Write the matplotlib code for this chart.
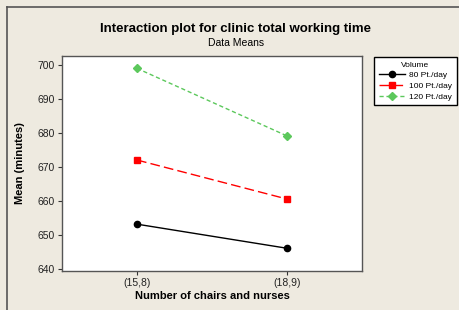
import matplotlib
matplotlib.use("Agg")
import matplotlib.pyplot as plt
from matplotlib.lines import Line2D

plt.rcParams['font.family'] = ['Liberation Sans', 'DejaVu Sans']

# data
groups = ["(15,8)", "(18,9)"]
vol_80 = [653.1, 646.0]
vol_100 = [672.0, 660.5]
vol_120 = [699.0, 679.1]
series_labels = ["80 Pt./day", "100 Pt./day", "120 Pt./day"]
yticks = [640, 650, 660, 670, 680, 690, 700]

bg = "#eeeae0"
fig = plt.figure(figsize=(4.6, 3.1), dpi=100, facecolor=bg)
ax = fig.add_axes([62/460, 1 - 271/310, 300/460, 215/310])
ax.set_facecolor("white")

x = [1, 2]
ax.plot(x, vol_80, color="black", lw=1, marker="o", ms=4.5, label=series_labels[0])
ax.plot(x, vol_100, color="#ff0000", lw=1, ls=(0, (7, 3)), marker="s", ms=4.5,
        label=series_labels[1])
ax.plot(x, vol_120, color="#5cc85c", lw=1, ls=(0, (3, 2)), marker="D", ms=4,
        label=series_labels[2])

ax.set_xlim(0.5, 2.5)
ax.set_ylim(639.3, 702.65)
ax.set_xticks(x)
ax.set_xticklabels(groups)
ax.set_yticks(yticks)
ax.tick_params(labelsize=7.5, length=3, width=0.8, color="#333333",
               labelcolor="#222222", pad=2)
for s in ax.spines.values():
    s.set_color("#555555")
    s.set_linewidth(1)

ax.set_xlabel("Number of chairs and nurses", fontsize=8, fontweight="bold", labelpad=2)
ax.set_ylabel("Mean (minutes)", fontsize=8, fontweight="bold", labelpad=9)

fig.text(236/460, 1 - 29/310, "Interaction plot for clinic total working time",
         ha="center", va="center", fontsize=9.5, fontweight="bold")
fig.text(236/460, 1 - 43/310, "Data Means", ha="center", va="center", fontsize=7.5)

leg = fig.legend(loc="upper left", bbox_to_anchor=(374/460, 1 - 57/310),
                 title="Volume", fontsize=6, title_fontsize=6,
                 frameon=True, fancybox=False, edgecolor="black", framealpha=1,
                 handlelength=3.2, borderpad=0.55, labelspacing=0.35,
                 handletextpad=0.5, borderaxespad=0)
leg.get_frame().set_linewidth(1)
leg.get_frame().set_facecolor("white")

# outer frame on top and left
fig.add_artist(Line2D([7/460, 1], [1 - 7/310, 1 - 7/310], color="#555555", lw=1.2))
fig.add_artist(Line2D([7/460, 7/460], [0, 1 - 7/310], color="#555555", lw=1.2))

fig.savefig("out.png", dpi=100, facecolor=bg)
